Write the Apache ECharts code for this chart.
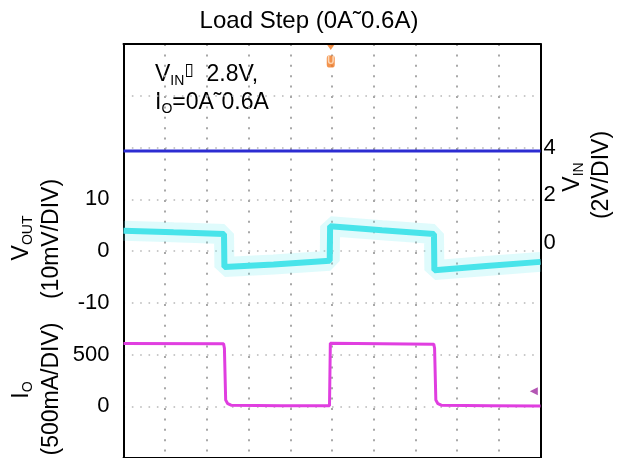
<!DOCTYPE html>
<html>
<head>
<meta charset="utf-8">
<script src="https://cdn.jsdelivr.net/npm/echarts@6/dist/echarts.min.js"></script>
<style>
html,body{margin:0;padding:0;background:#fff;}
#chart{width:618px;height:458px;}
</style>
</head>
<body>
<div id="chart"></div>
<script>
// ---- data (x in scope divisions) ----
const chartTitle = 'Load Step (0A\u02DC0.6A)';
const vinTime = [0, 10];
const vinVolts = [3.85, 3.85];
const voutTime = [0, 1.2, 2.41, 2.42, 3.6, 4.945, 4.955, 6.2, 7.445, 7.455, 8.7, 10];
const voutMv = [3.9, 3.6, 3.3, -3.1, -2.6, -1.9, 4.8, 4.0, 3.3, -3.7, -2.9, -2.1];
const ioTime = [0, 2.40, 2.42, 2.45, 2.50, 2.58, 3.8, 4.94, 4.96, 6.2, 7.44, 7.46, 7.49, 7.54, 7.62, 8.8, 10];
const ioMa = [606, 604, 560, 60, 25, 10, 6, 4, 608, 604, 600, 560, 60, 25, 10, 6, 2];
const voutTicks = [-10, 0, 10];
const ioTicks = [0, 500];
const vinTicks = [0, 2, 4];
const triggerMark = [[4.97, 39.3]];
const triggerLabelMark = [[4.97, 36.6]];
const groundMark = [[9.84, 144]];

const FONT = 'Liberation Sans, Arial, Helvetica, sans-serif';
const zip = (a, b) => a.map((v, i) => [v, b[i]]);

const chart = echarts.init(document.getElementById('chart'), null, {renderer: 'canvas'});

const subRich = {
  a: {fontSize: 23, fontFamily: FONT, color: '#000', lineHeight: 26},
  s: {fontSize: 14, fontFamily: FONT, color: '#000', lineHeight: 14, verticalAlign: 'bottom'},
  b: {fontSize: 17, fontFamily: 'DejaVu Sans', color: '#000', lineHeight: 26, verticalAlign: 'top'}
};

function rotText(x, y, text, rot) {
  return {
    type: 'text', x: x, y: y, rotation: rot,
    style: {text: text, rich: subRich, align: 'center', verticalAlign: 'middle',
            fontSize: 23, fontFamily: FONT, fill: '#000'}
  };
}

const borderLine = {show: true, onZero: false, lineStyle: {color: '#000', width: 2}};
const dotX = {show: true, lineStyle: {color: '#a8a8a8', width: 2, type: [2, 8.4]}};

const option = {
  animation: false,
  backgroundColor: '#fff',
  title: {
    text: chartTitle, left: 'center', top: 4,
    textStyle: {fontSize: 24, fontWeight: 'normal', fontFamily: FONT, color: '#000'}
  },
  grid: {left: 123.5, top: 44, width: 417, height: 416, show: false},
  xAxis: [
    {
      type: 'value', position: 'bottom', min: 0, max: 10, interval: 1,
      axisLine: borderLine, axisTick: {show: false}, axisLabel: {show: false},
      splitLine: dotX
    },
    {
      type: 'value', position: 'top', min: 0, max: 10, interval: 1,
      axisLine: borderLine, axisTick: {show: false}, axisLabel: {show: false},
      splitLine: {show: false}
    }
  ],
  yAxis: [
    { // VOUT, 10 mV/div
      type: 'value', position: 'left', min: -40, max: 40, interval: 10,
      axisLine: borderLine, axisTick: {show: false},
      axisLabel: {margin: 14, fontSize: 22, fontFamily: FONT, color: '#000',
        formatter: v => voutTicks.includes(v) ? String(v) : ''},
      splitLine: {show: true, lineStyle: {color: '#b8b8b8', width: 1.6, type: [1.6, 6.74]}}
    },
    { // IO, 500 mA/div
      type: 'value', position: 'left', min: -500, max: 3500, interval: 500,
      axisLine: {show: false}, axisTick: {show: false},
      axisLabel: {margin: 14, fontSize: 22, fontFamily: FONT, color: '#000',
        formatter: v => ioTicks.includes(v) ? String(v) : ''},
      splitLine: {show: false}
    },
    { // VIN
      type: 'value', position: 'right', min: -9, max: 25 / 3, interval: 1,
      axisLine: borderLine, axisTick: {show: false},
      axisLabel: {margin: 3, fontSize: 22, fontFamily: FONT, color: '#000',
        formatter: v => vinTicks.includes(v) ? String(v) : ''},
      splitLine: {show: false}
    }
  ],
  series: [
    {
      type: 'line', name: 'VIN', yAxisIndex: 2, data: zip(vinTime, vinVolts),
      symbol: 'none', lineStyle: {color: '#2c2cd2', width: 3}
    },
    {
      type: 'line', name: 'VOUT halo', yAxisIndex: 0, data: zip(voutTime, voutMv),
      symbol: 'none', lineStyle: {color: 'rgba(110,236,240,0.22)', width: 20}
    },
    {
      type: 'line', name: 'VOUT', yAxisIndex: 0, data: zip(voutTime, voutMv),
      symbol: 'none', lineStyle: {color: '#48e4ea', width: 6}
    },
    {
      type: 'line', name: 'IO', yAxisIndex: 1, data: zip(ioTime, ioMa),
      symbol: 'none', lineStyle: {color: '#e03ee0', width: 3}
    },
    {
      type: 'scatter', name: 'trigger', yAxisIndex: 0, data: triggerMark,
      symbol: 'triangle', symbolRotate: 180, symbolSize: [7, 5],
      itemStyle: {color: '#f07820'}
    },
    {
      type: 'scatter', name: 'trigger label', yAxisIndex: 0, data: triggerLabelMark,
      symbol: 'roundRect', symbolSize: [8, 12], itemStyle: {color: '#f07820'},
      label: {show: true, position: 'inside', formatter: 'U', fontSize: 10, fontWeight: 'bold',
        color: '#ffe8d0', fontFamily: FONT}
    },
    {
      type: 'scatter', name: 'ground', yAxisIndex: 1, data: groundMark,
      symbol: 'triangle', symbolRotate: 90, symbolSize: 8,
      itemStyle: {color: '#a02ca0'}
    }
  ],
  graphic: [
    {
      type: 'text', x: 155, y: 75,
      style: {text: '{a|V}{s|IN}{b|\u25AF}{a|  2.8V,}', rich: subRich, align: 'left', verticalAlign: 'middle'}
    },
    {
      type: 'text', x: 155, y: 103,
      style: {text: '{a|I}{s|O}{a|=0A\u02DC0.6A}', rich: subRich, align: 'left', verticalAlign: 'middle'}
    },
    rotText(22, 238, '{a|V}{s|OUT}', Math.PI / 2),
    rotText(52, 239, '{a|(10mV/DIV)}', Math.PI / 2),
    rotText(22, 390, '{a|I}{s|O}', Math.PI / 2),
    rotText(52, 389, '{a|(500mA/DIV)}', Math.PI / 2),
    rotText(573, 177, '{a|V}{s|IN}', Math.PI / 2),
    rotText(602, 175, '{a|(2V/DIV)}', Math.PI / 2)
  ]
};
chart.setOption(option);
</script>
</body>
</html>
